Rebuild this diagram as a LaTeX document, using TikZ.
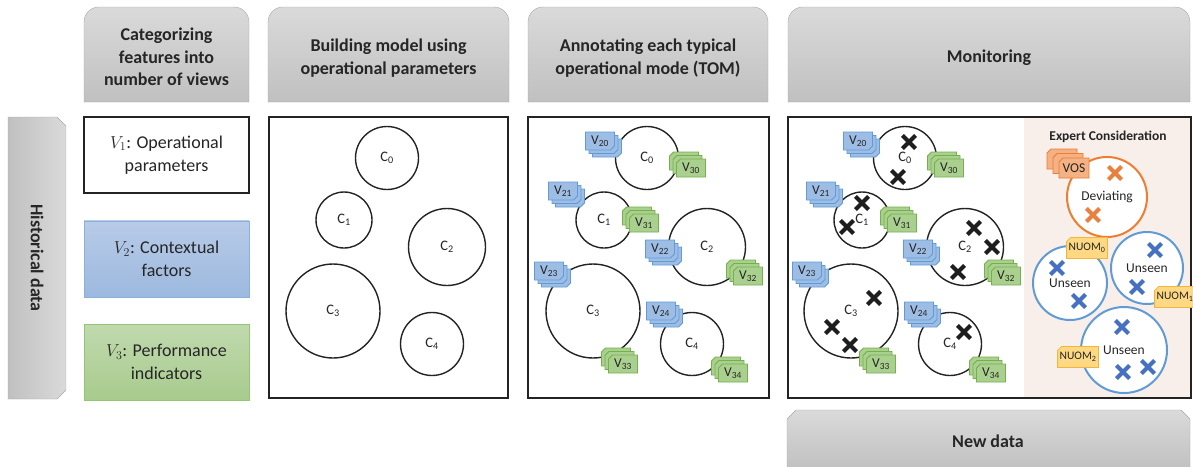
\documentclass[tikz,border=0pt]{standalone}
\usepackage{fontspec}
\setmainfont{Carlito}
\usetikzlibrary{shapes.misc,shadows,positioning}

\definecolor{hdrtop}{RGB}{218,218,218}
\definecolor{hdrbot}{RGB}{192,192,192}
\definecolor{hdrline}{RGB}{168,168,168}
\definecolor{txt}{RGB}{38,38,38}
\definecolor{frame}{RGB}{35,35,35}
\definecolor{vtwotop}{RGB}{184,203,232}
\definecolor{vtwobot}{RGB}{156,185,222}
\definecolor{vtwoline}{RGB}{140,175,222}
\definecolor{vthreetop}{RGB}{192,217,174}
\definecolor{vthreebot}{RGB}{168,203,141}
\definecolor{vthreeline}{RGB}{146,198,114}
\definecolor{bluecard}{RGB}{157,189,229}
\definecolor{blueline}{RGB}{96,155,214}
\definecolor{greencard}{RGB}{169,208,142}
\definecolor{greenline}{RGB}{118,176,76}
\definecolor{orangecard}{RGB}{244,177,131}
\definecolor{orangeline}{RGB}{237,125,49}
\definecolor{yellowcard}{RGB}{254,216,130}
\definecolor{yellowline}{RGB}{242,182,62}
\definecolor{expertbg}{RGB}{248,239,235}
\definecolor{xdark}{RGB}{30,30,30}
\definecolor{xblue}{RGB}{70,112,192}
\definecolor{xorange}{RGB}{232,128,64}

\begin{document}
\begin{tikzpicture}[x=1pt,y=-1pt,
    header/.style={draw=hdrline,top color=hdrtop,bottom color=hdrbot},
    head text/.style={align=center,text=txt,font=\fontsize{18}{22.5}\selectfont\bfseries},
    view/.style={minimum width=165,minimum height=76,inner sep=0,align=center,
                 text=txt,font=\fontsize{18}{23}\selectfont},
    panel/.style={draw=frame,line width=1.5},
    tom/.style={circle,draw=frame,line width=1.4,fill=white,inner sep=0,minimum size=#1,
                text=txt,font=\fontsize{14.5}{16}\selectfont},
    card/.style={chamfered rectangle,chamfered rectangle xsep=2pt,chamfered rectangle ysep=2pt,
                 minimum width=29,minimum height=18,inner sep=0,line width=0.8,
                 text=txt,font=\fontsize{13.5}{15}\selectfont},
    blue stack/.style={card,chamfered rectangle corners=south east,fill=bluecard,draw=blueline,
      copy shadow={shadow xshift=7pt,shadow yshift=-7pt,fill=bluecard,draw=blueline},
      copy shadow={shadow xshift=3.5pt,shadow yshift=-3.5pt,fill=bluecard,draw=blueline}},
    green stack/.style={card,chamfered rectangle corners=north west,fill=greencard,draw=greenline,
      copy shadow={shadow xshift=-7pt,shadow yshift=7pt,fill=greencard,draw=greenline},
      copy shadow={shadow xshift=-3.5pt,shadow yshift=3.5pt,fill=greencard,draw=greenline}},
    orange stack/.style={card,chamfered rectangle corners=north west,fill=orangecard,draw=orangeline,
      minimum width=30,minimum height=20,
      copy shadow={shadow xshift=-12pt,shadow yshift=9pt,fill=orangecard,draw=orangeline},
      copy shadow={shadow xshift=-6pt,shadow yshift=4.5pt,fill=orangecard,draw=orangeline}},
    nuom/.style={card,chamfered rectangle corners=north west,fill=yellowcard,draw=yellowline,
      minimum width=36,minimum height=21,font=\fontsize{11.5}{13}\selectfont},
    unseen/.style={circle,draw=blueline,line width=2,fill=white,inner sep=0,minimum size=#1,
                   text=txt,font=\fontsize{13.5}{15}\selectfont},
    xmark/.style={cross out,draw=#1,line width=4.2pt,minimum size=9,inner sep=0},
    xmark/.default=xdark]

  \useasboundingbox (0,0) rectangle (1193,466);

  % column headers
  \foreach \xa/\xb in {84/249, 268/509, 528/768, 788/1190}
    \draw[header] (\xa,102) -- (\xa,22) arc[start angle=180,end angle=90,radius=15pt]
      -- (\xb-15,7) arc[start angle=90,end angle=0,radius=15pt] -- (\xb,102) -- cycle;
  \node[head text] (h1) at (166.5,57) {Categorizing\\features into\\number of views};
  \node[head text] (h2) at (388.5,58) {Building model using\\operational parameters};
  \node[head text] (h3) at (648,58) {Annotating each typical\\operational mode (TOM)};
  \node[head text] (h4) at (989,58) {Monitoring};

  % historical data bar
  \draw[draw=hdrline,left color=hdrbot,right color=hdrtop]
    (8,117) -- (57,117) -- (66,126) -- (66,390) -- (57,399) -- (8,399) -- cycle;
  \node[head text,rotate=-90] (hist) at (37,258) {Historical data};

  % new data bar
  \draw[draw=hdrline,top color=hdrtop,bottom color=hdrbot]
    (787,470) -- (787,419) -- (796,410) -- (1181,410) -- (1190,419) -- (1190,470);
  \node[head text] (new) at (988,441) {New data};

  % views
  \node[view,draw=frame,line width=1.5,fill=white] (v1) at (166.5,155)
    {$V_1$: Operational\\parameters};
  \node[view,draw=vtwoline,top color=vtwotop,bottom color=vtwobot] (v2) [below=27pt of v1]
    {$V_2$: Contextual\\factors};
  \node[view,draw=vthreeline,top color=vthreetop,bottom color=vthreebot] (v3) [below=27pt of v2]
    {$V_3$: Performance\\indicators};

  % panels
  \fill[expertbg] (1024,118) rectangle (1191,397);
  \draw[panel] (269,117) rectangle (508,398);
  \draw[panel] (528,117) rectangle (769,398);
  \draw[panel] (788,117) rectangle (1191,398);

  % typical operational modes
  \foreach \p/\dx in {b/0, c/260, d/518} {
    \node[tom=63] (\p0) at (387+\dx,158) {C\textsubscript{0}};
    \node[tom=56] (\p1) at (344+\dx,220) {C\textsubscript{1}};
    \node[tom=77] (\p2) at (447+\dx,247) {C\textsubscript{2}};
    \node[tom=94] (\p3) at (333+\dx,311) {C\textsubscript{3}};
    \node[tom=63] (\p4) at (432+\dx,344) {C\textsubscript{4}};
  }
  \foreach \p/\dx in {c/260, d/518} {
    \foreach \i/\x/\y in {0/340/141, 1/303/191, 2/400/249, 3/289/271, 4/401/311}
      \node[blue stack] (\p v2\i) at (\x+\dx,\y) {V\textsubscript{2\i}};
    \foreach \i/\x/\y in {0/431/168, 1/384/223, 2/488/276, 3/363/364, 4/473/373}
      \node[green stack] (\p v3\i) at (\x+\dx,\y) {V\textsubscript{3\i}};
  }

  % new observations
  \foreach \x/\y [count=\k] in {909/142, 898/177, 862/203, 847/227, 974/228, 992/247,
                                958/272, 874/298, 832/327, 850/345, 964/332}
    \node[xmark] (x\k) at (\x,\y) {};

  % expert consideration
  \node[text=txt,font=\fontsize{13.5}{16}\selectfont\bfseries] (expert) at (1108,137)
    {Expert Consideration};
  \node[circle,draw=orangeline,line width=2,fill=white,inner sep=0,minimum size=80,
        text=txt,font=\fontsize{13.5}{15}\selectfont] (dev) at (1107,197) {Deviating};
  \node[orange stack] (vos) at (1074,168) {VOS};
  \node[xmark=xorange] (xd1) at (1115,173) {};
  \node[xmark=xorange] (xd2) at (1093,215) {};

  \node[unseen=74] (u0) at (1070,283) {Unseen};
  \node[unseen=72] (u1) at (1147,268) {Unseen};
  \node[unseen=86] (u2) at (1124,350) {Unseen};
  \foreach \x/\y [count=\k] in {1057/268, 1079/301, 1155/250, 1137/287,
                                1122/327, 1123/372, 1148/367}
    \node[xmark=xblue] (xu\k) at (\x,\y) {};
  \node[nuom] (n0) at (1087,248) {NUOM\textsubscript{0}};
  \node[nuom] (n1) at (1175,297) {NUOM\textsubscript{1}};
  \node[nuom] (n2) at (1078,357) {NUOM\textsubscript{2}};
\end{tikzpicture}
\end{document}
